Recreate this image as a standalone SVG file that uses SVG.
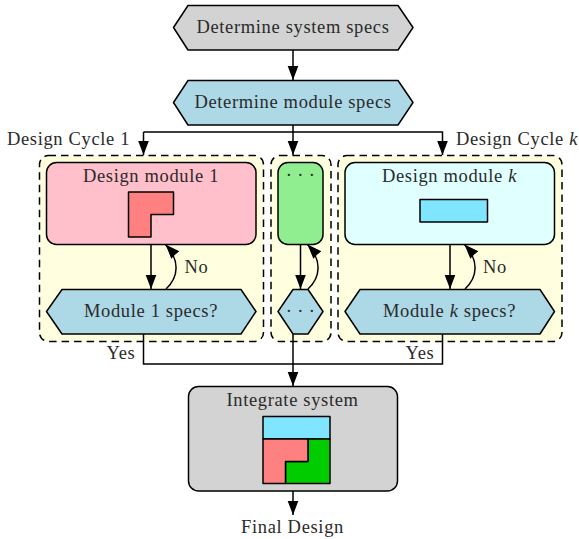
<svg xmlns="http://www.w3.org/2000/svg" width="579" height="539" viewBox="0 0 579 539">
<style>
text{font-family:"Liberation Serif","Times New Roman",serif;font-size:18.500px;letter-spacing:.65px;fill:#2a2a2a;text-anchor:middle}
.d{letter-spacing:.4px}
.s{stroke:#000;stroke-width:1.5;stroke-linejoin:round}
.c{fill:#ffffe0;stroke:#000;stroke-width:1.5;stroke-dasharray:7.500 5}
.l{fill:none;stroke:#000;stroke-width:1.5;stroke-linejoin:miter}
.blue{fill:#add8e6}.red{fill:#ff8080}.cy{fill:#80e5ff}.gr{fill:#00cc00}
</style>
<defs><marker id="a" markerUnits="userSpaceOnUse" markerWidth="16" markerHeight="12" refX="14.500" refY="5.500" orient="auto"><path d="M0 0L14.500 5.500L0 11L.6 5.500Z" fill="#000"/></marker></defs>
<g id="cycle1"><rect class="c" x="39.500" y="155.500" width="224" height="186" rx="9"/></g>
<g id="cycle-mid"><rect class="c" x="271" y="155.500" width="60" height="186" rx="9"/></g>
<g id="cyclek"><rect class="c" x="338" y="155.500" width="224" height="186" rx="9"/></g>
<g id="connectors">
<path class="l" d="M293 50V80" marker-end="url(#a)"/>
<path class="l" d="M293 125V155" marker-end="url(#a)"/>
<path class="l" d="M143.500 132H442.500V155" marker-end="url(#a)"/>
<path class="l" d="M143.500 132V155" marker-end="url(#a)"/>
<path class="l" d="M151 244.500V289" marker-end="url(#a)"/>
<path class="l" d="M166 289C179 277 180 260 165.500 244.500" marker-end="url(#a)"/>
<path class="l" d="M300.500 244.500V289" marker-end="url(#a)"/>
<path class="l" d="M308 289C321 277 322 260 307.500 244.500" marker-end="url(#a)"/>
<path class="l" d="M450 244.500V289" marker-end="url(#a)"/>
<path class="l" d="M465 289C478 277 479 260 464.500 244.500" marker-end="url(#a)"/>
<path class="l" d="M143.500 334V364H442.500V334"/>
<path class="l" d="M293 334V386" marker-end="url(#a)"/>
<path class="l" d="M293 491V515" marker-end="url(#a)"/>
</g>
<g id="specs"><path class="s" fill="#d3d3d3" d="M188 5.500H398L413 27.500L398 50H188L173.500 27.500Z"/><text x="293" y="32.500">Determine system specs</text></g>
<g id="modspecs"><path class="s blue" d="M188 80.500H398L413 102.500L398 125H188L173.500 102.500Z"/><text x="293" y="107.500">Determine module specs</text></g>
<g id="module1"><rect class="s" fill="#ffc0cb" x="46.500" y="162.500" width="209.500" height="82" rx="10"/><text x="151" y="182">Design module 1</text>
<path class="s red" d="M128.500 192H173.500V214.500H151V237H128.500Z"/></g>
<g id="modulemid"><rect class="s" fill="#90ee90" x="278" y="162.500" width="45" height="82" rx="10"/><text class="d" x="300.500" y="181">· · ·</text></g>
<g id="modulek"><rect class="s" fill="#e0ffff" x="345" y="162.500" width="209.500" height="82" rx="10"/><text x="449.500" y="182">Design module <tspan font-style="italic">k</tspan></text>
<rect class="s cy" x="420" y="199.500" width="67.500" height="22.500"/></g>
<g id="check1"><path class="s blue" d="M62 289.500H241L256 311.500L241 334H62L46.500 311.500Z"/><text x="151" y="316.500">Module 1 specs?</text></g>
<g id="checkmid"><path class="s blue" d="M293 289.500H308L323 311.500L308 334H293L278 311.500Z"/><text class="d" x="300.500" y="316.500">· · ·</text></g>
<g id="checkk"><path class="s blue" d="M360 289.500H540L554.500 311.500L540 334H360L345 311.500Z"/><text x="449.500" y="316.500">Module <tspan font-style="italic">k</tspan> specs?</text></g>
<g id="integrate"><rect class="s" fill="#d3d3d3" x="188.500" y="386.500" width="209" height="104.500" rx="10"/><text x="292.500" y="406">Integrate system</text>
<rect class="s cy" x="263" y="416.500" width="67" height="22.500"/>
<path class="s gr" d="M308 439H330V483.500H285.500V461.500H308Z"/>
<path class="s red" d="M263 439H308V461.500H285.500V483.500H263Z"/></g>
<g id="labels">
<text x="68.500" y="145">Design Cycle 1</text>
<text x="517" y="145">Design Cycle <tspan font-style="italic">k</tspan></text>
<text x="196.500" y="273">No</text>
<text x="495" y="273">No</text>
<text x="121" y="358.500">Yes</text>
<text x="420" y="358.500">Yes</text>
<text x="292.500" y="533">Final Design</text>
</g>
</svg>
